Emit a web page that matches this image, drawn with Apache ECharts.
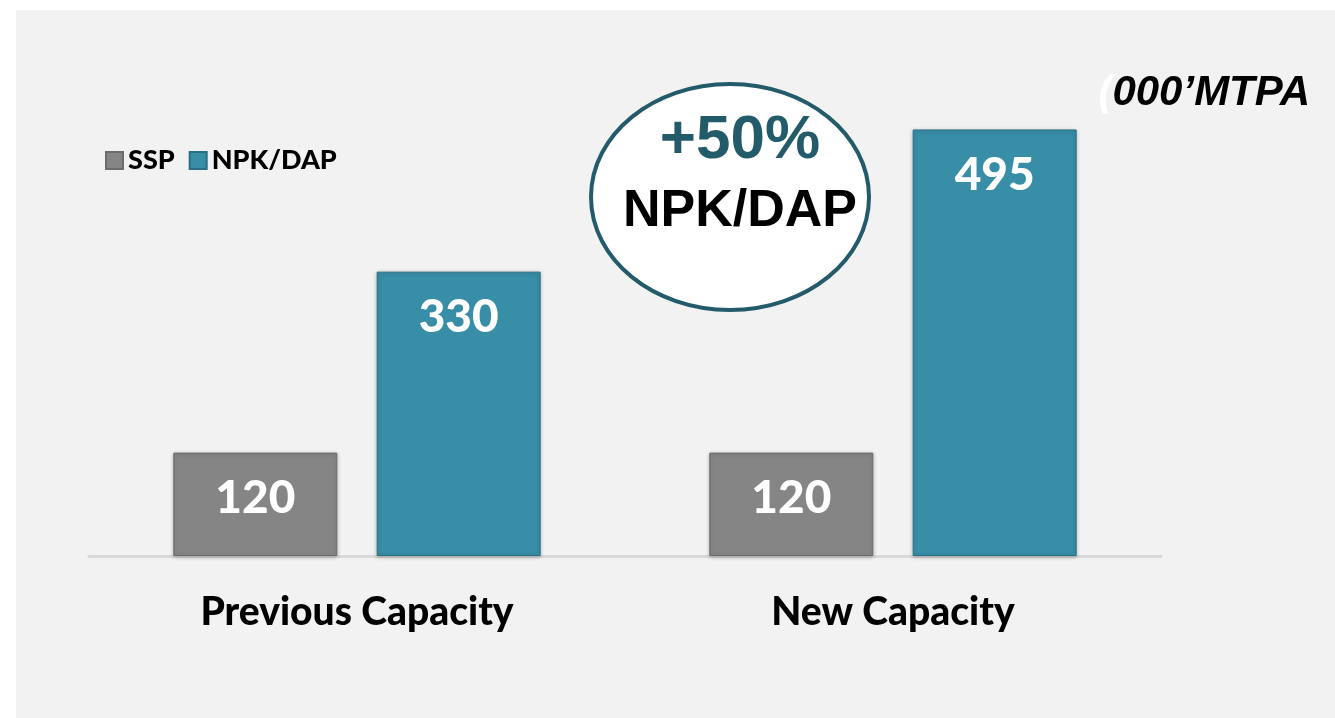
<!DOCTYPE html>
<html>
<head>
<meta charset="utf-8">
<script src="https://cdn.jsdelivr.net/npm/echarts@6/dist/echarts.min.js"></script>
<style>
	html, body { margin: 0; padding: 0; background: #ffffff; }
	#bg { position: absolute; left: 16px; top: 10px; width: 1319px; height: 708px; background: #f2f2f2; }
	#capacityChart { position: absolute; left: 0; top: 0; width: 1335px; height: 718px; }
</style>
</head>
<body>
<div id="bg"></div>
<div id="capacityChart"></div>
<script>
// 产能对比 柱状图
var categories = ['Previous Capacity', 'New Capacity'];
var sspValues = [120, 120];
var npkValues = [330, 495];
var seriesNames = ['SSP', 'NPK/DAP'];

var capacityEchart = echarts.init(document.getElementById('capacityChart'));

var barLabel = {
	show: true,
	position: 'insideTop',
	distance: 23,
	color: '#ffffff',
	fontFamily: 'Lato',
	fontWeight: 900,
	fontSize: 46
};

var capacityOption = {
	backgroundColor: 'transparent',
	animation: false,
	legend: {
		left: 100,
		top: 142,
		itemWidth: 17,
		itemHeight: 17,
		itemGap: 14,
		icon: 'rect',
		data: seriesNames,
		textStyle: {
			fontFamily: 'Lato',
			fontWeight: 900,
			fontSize: 27,
			color: '#000000'
		}
	},
	grid: {
		left: 89,
		right: 174,
		top: 39,
		bottom: 162
	},
	xAxis: {
		type: 'category',
		data: categories,
		axisTick: { show: false },
		axisLine: {
			lineStyle: { color: '#d9d9d9', width: 3 }
		},
		axisLabel: {
			margin: 37,
			fontFamily: 'Lato',
			fontWeight: 900,
			fontSize: 39,
			color: '#000000'
		}
	},
	yAxis: {
		type: 'value',
		min: 0,
		max: 600,
		show: false,
		splitLine: { show: false }
	},
	series: [{
		name: 'SSP',
		type: 'bar',
		data: sspValues,
		barWidth: 164,
		barGap: '24%',
		itemStyle: {
			color: '#858585',
			borderColor: '#6b6b6b',
			borderWidth: 1,
			shadowBlur: 4,
			shadowColor: 'rgba(0,0,0,0.25)',
			shadowOffsetY: 1
		},
		label: barLabel
	}, {
		name: 'NPK/DAP',
		type: 'bar',
		data: npkValues,
		barWidth: 164,
		itemStyle: {
			color: '#388da7',
			borderColor: '#2a6f84',
			borderWidth: 1,
			shadowBlur: 4,
			shadowColor: 'rgba(0,0,0,0.25)',
			shadowOffsetY: 1
		},
		label: barLabel
	}],
	graphic: [{
		type: 'ellipse',
		shape: { cx: 730, cy: 197, rx: 139, ry: 113 },
		style: { fill: '#ffffff', stroke: '#235b6b', lineWidth: 4 },
		z: 10
	}, {
		type: 'text',
		x: 740,
		y: 141,
		z: 11,
		style: {
			text: '+50%',
			fill: '#235b6b',
			font: 'bold 62px "Liberation Sans", Arial, sans-serif',
			align: 'center',
			verticalAlign: 'middle'
		}
	}, {
		type: 'text',
		x: 740,
		y: 212,
		z: 11,
		style: {
			text: 'NPK/DAP',
			fill: '#000000',
			font: 'bold 52px "Liberation Sans", Arial, sans-serif',
			align: 'center',
			verticalAlign: 'middle'
		}
	}, {
		type: 'text',
		x: 1310,
		y: 93,
		z: 11,
		style: {
			text: '{p|(}{t|000\u2019MTPA}',
			align: 'right',
			verticalAlign: 'middle',
			rich: {
				p: { fill: '#ffffff', font: 'italic bold 42px "Liberation Sans", Arial, sans-serif' },
				t: { fill: '#000000', font: 'italic bold 42px "Liberation Sans", Arial, sans-serif' }
			}
		}
	}]
};

capacityEchart.setOption(capacityOption);
</script>
</body>
</html>
